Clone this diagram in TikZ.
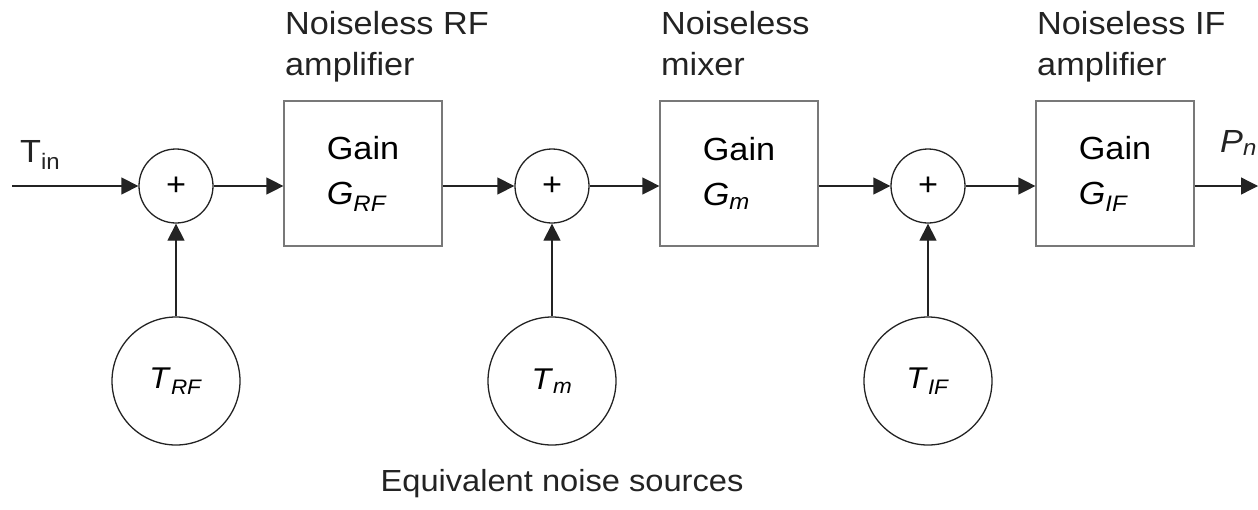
\documentclass[tikz,border=0pt]{standalone}
\usepackage{fontspec}
\setmainfont[FakeStretch=1.07]{Liberation Sans}
\usepackage{tikz}
\usetikzlibrary{arrows.meta, positioning, calc}
\definecolor{boxgray}{RGB}{120,120,120}
\definecolor{linedark}{RGB}{35,35,35}
\newcommand{\sym}[2]{\textit{#1}\textsubscript{\textit{#2}}}

\begin{document}
\begin{tikzpicture}[
          x=1pt, y=-1pt,
          sumnode/.style={circle, draw=linedark, line width=1.3pt, minimum size=74pt, inner sep=0pt, font=\fontsize{32}{34}\selectfont},
          noisenode/.style={circle, draw=linedark, line width=1.3pt, minimum size=128pt, inner sep=0pt, font=\fontsize{30}{34}\selectfont},
          gainbox/.style={rectangle, draw=boxgray, line width=1.2pt, minimum width=158pt, minimum height=145pt, align=left, font=\fontsize{32}{45}\selectfont},
          caption/.style={anchor=north west, inner sep=0pt, align=left, font=\fontsize{32}{41}\selectfont, color=linedark},
          flow/.style={-{Triangle[length=17pt,width=17pt]}, line width=1.3pt, linedark}
        ]
          \useasboundingbox (0,0) rectangle (1258,509);

          % Summing points
          \node[sumnode] (sumrf) at (176,186) {+};
          \node[sumnode] (summ) at (552,186) {+};
          \node[sumnode] (sumif) at (928,186) {+};

          % Noiseless stages
          \node[gainbox] (amprf) at (363,173.5) {Gain\\\sym{G}{RF}};
          \node[gainbox] (mixer) at (739,173.5) {Gain\\\sym{G}{m}};
          \node[gainbox] (ampif) at (1115,173.5) {Gain\\\sym{G}{IF}};

          \node[caption] (caprf) at (285,11) {Noiseless RF\\amplifier};
          \node[caption] (capm) at (661,11) {Noiseless\\mixer};
          \node[caption] (capif) at (1037,11) {Noiseless IF\\amplifier};

          % Equivalent noise sources
          \node[noisenode] (trf) at (176,381) {\sym{T}{RF}};
          \node[noisenode] (tm) at (552,381) {\sym{T}{m}};
          \node[noisenode] (tif) at (928,381) {\sym{T}{IF}};
          \node[font=\fontsize{30.5}{34}\selectfont, color=linedark] (eqn) at (562,484) {Equivalent noise sources};

          % Input and output
          \coordinate (inp) at (12,186);
          \coordinate (outp) at (1258,186);
          \node[anchor=base west, font=\fontsize{32}{34}\selectfont, color=linedark, inner sep=0pt] (tin) at (20,162) {T\textsubscript{in}};
          \node[anchor=base west, font=\fontsize{32}{34}\selectfont, color=linedark, inner sep=0pt] (pn) at (1220,152) {\sym{P}{n}};

          % Connections
          \draw[flow] (inp) -- (sumrf);
          \draw[flow] (sumrf) -- (sumrf -| amprf.west);
          \draw[flow] (sumrf -| amprf.east) -- (summ);
          \draw[flow] (summ) -- (summ -| mixer.west);
          \draw[flow] (summ -| mixer.east) -- (sumif);
          \draw[flow] (sumif) -- (sumif -| ampif.west);
          \draw[flow] (sumif -| ampif.east) -- (outp);
          \draw[flow] (trf) -- (sumrf);
          \draw[flow] (tm) -- (summ);
          \draw[flow] (tif) -- (sumif);
        \end{tikzpicture}
\end{document}
